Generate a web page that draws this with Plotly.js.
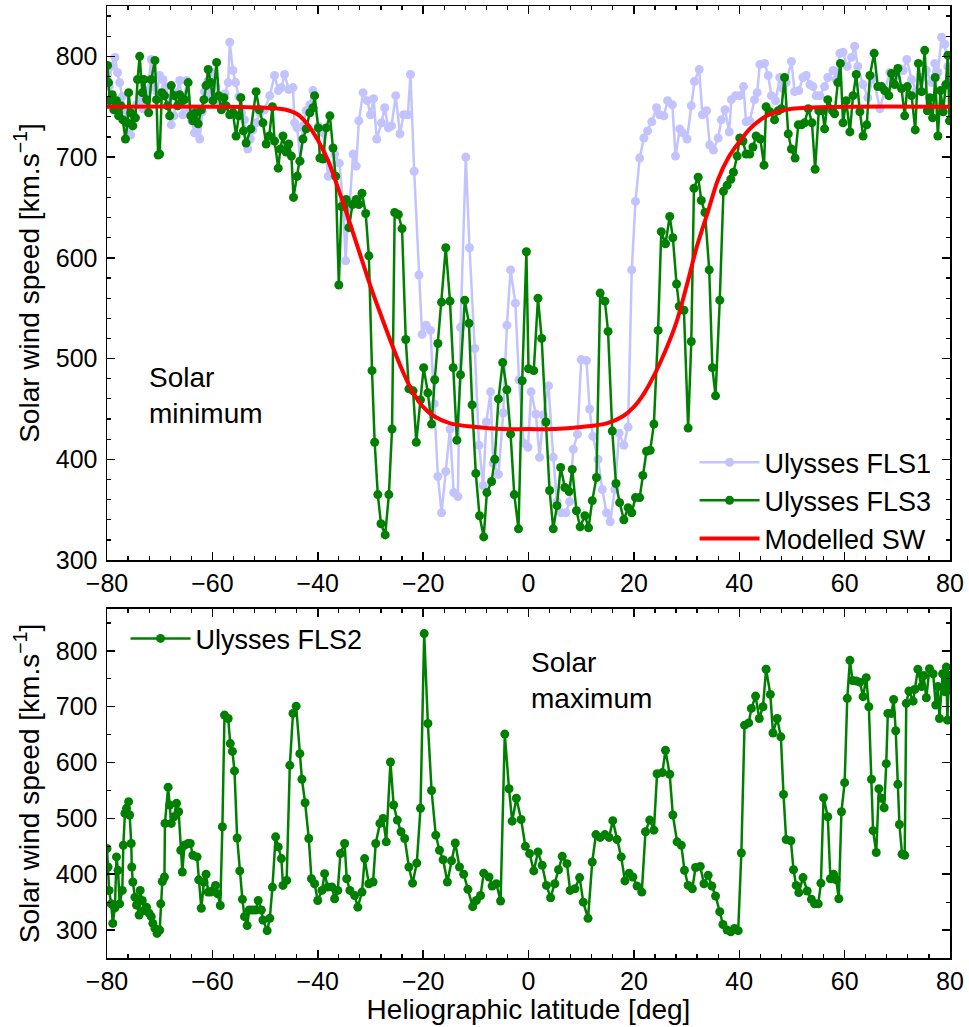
<!DOCTYPE html>
<html>
<head>
<meta charset="utf-8">
<script src="https://cdn.plot.ly/plotly-3.0.1.min.js"></script>
<style>html,body{margin:0;padding:0;background:#fff;}#chart{width:969px;height:1027px;}</style>
</head>
<body>
<div id="chart"></div>
<script>
// ---------- DATA ----------
const fls1Lat = [-80.0,-79.6,-79.2,-78.5,-78.0,-77.6,-77.1,-76.6,-76.0,-75.5,-75.0,-74.4,-73.8,-73.2,-72.8,-72.3,-71.6,-71.1,-70.5,-70.0,-69.4,-68.9,-68.3,-67.8,-67.3,-66.8,-66.2,-65.6,-64.9,-64.4,-63.9,-63.4,-62.9,-62.4,-61.9,-61.5,-60.9,-60.4,-59.8,-59.3,-58.7,-58.1,-57.6,-57.0,-56.7,-56.1,-55.6,-55.0,-54.5,-53.9,-53.3,-52.8,-52.3,-51.7,-51.0,-50.1,-49.1,-48.2,-47.5,-46.9,-46.3,-45.5,-44.7,-44.4,-43.9,-43.3,-42.8,-42.2,-41.5,-40.9,-39.9,-39.0,-38.0,-37.4,-36.8,-35.9,-35.2,-34.7,-34.3,-33.9,-33.3,-32.7,-32.2,-31.4,-30.6,-30.0,-29.4,-28.8,-27.9,-27.3,-26.6,-26.0,-25.2,-24.4,-23.7,-22.9,-22.4,-21.7,-20.8,-20.2,-19.4,-18.6,-17.9,-17.2,-16.5,-15.7,-14.9,-14.2,-13.4,-12.9,-11.9,-11.2,-10.2,-9.4,-8.6,-8.0,-7.2,-6.7,-5.7,-4.8,-4.1,-3.4,-2.5,-1.8,-0.9,-0.1,0.5,1.4,2.1,2.8,3.8,4.7,5.4,6.2,7.1,7.8,8.5,9.3,10.0,11.0,11.6,12.2,13.2,14.0,14.8,15.5,16.4,17.2,18.1,18.9,19.6,20.3,21.1,21.9,22.6,23.4,24.3,24.9,25.7,26.4,27.3,27.9,28.7,29.3,30.1,30.9,31.5,32.4,33.0,33.8,34.4,35.1,36.0,36.6,37.3,38.1,38.5,39.3,40.1,40.8,41.3,42.0,42.9,43.4,43.9,44.8,45.5,46.1,46.9,47.7,48.3,48.9,49.9,50.5,51.3,52.1,52.7,53.4,54.0,54.6,55.3,56.2,56.8,57.8,58.4,59.1,59.7,60.5,61.3,61.9,62.5,63.5,64.4,65.4,66.7,67.6,68.6,69.5,70.4,71.1,71.8,72.7,73.6,74.6,75.5,76.5,77.1,77.7,78.4,79.0,79.6,80.0];
const fls1Speed = [781,770,790,799,784,774,760,747,728,722,740,752,760,748,751,766,797,770,765,781,777,770,758,732,741,764,776,742,776,748,736,724,737,718,745,765,775,760,784,770,752,748,763,774,814,786,774,760,744,737,708,718,727,734,744,747,761,781,766,769,782,767,769,734,729,696,731,746,752,766,731,724,681,688,703,694,655,597,641,655,703,691,736,764,756,742,758,718,734,749,729,731,761,723,742,742,782,686,583,524,533,528,455,383,347,388,430,367,363,531,700,610,510,414,374,437,467,396,385,446,533,588,555,479,416,412,467,445,402,444,473,402,358,347,347,358,410,425,499,498,450,423,400,370,347,338,370,426,414,432,588,656,699,719,726,735,749,742,741,756,752,701,728,724,718,751,775,787,742,746,712,707,719,737,747,725,757,761,761,770,735,736,757,764,792,793,781,761,756,779,768,774,795,765,766,779,781,772,770,761,761,770,779,786,777,803,804,790,799,810,790,772,759,779,748,766,784,779,788,786,797,777,766,779,786,774,793,784,819,812,790,770];

const fls3Lat = [-79.9,-79.7,-79.5,-79.0,-78.7,-78.2,-77.8,-77.4,-77.0,-76.5,-76.1,-75.9,-75.5,-75.1,-74.6,-74.2,-73.8,-73.3,-73.0,-72.5,-72.1,-71.6,-70.9,-70.6,-70.3,-70.0,-69.6,-69.1,-68.5,-68.1,-67.8,-67.2,-66.6,-66.2,-65.7,-65.3,-64.6,-64.1,-63.7,-63.2,-62.7,-62.1,-61.6,-61.2,-60.8,-60.3,-59.9,-59.2,-58.8,-58.3,-57.8,-57.4,-56.7,-56.1,-55.5,-55.0,-54.6,-54.1,-53.6,-52.7,-51.7,-51.1,-50.4,-49.8,-49.2,-48.6,-48.2,-47.5,-47.1,-46.6,-46.0,-45.5,-45.0,-44.6,-43.9,-43.4,-42.8,-42.2,-41.5,-40.9,-40.6,-39.9,-39.6,-39.0,-38.4,-37.7,-37.1,-36.6,-36.0,-35.5,-34.6,-34.1,-33.4,-32.7,-32.2,-31.6,-30.9,-30.3,-29.7,-29.2,-28.6,-28.0,-27.2,-26.5,-25.9,-25.4,-24.7,-24.0,-23.3,-22.7,-21.9,-21.3,-20.5,-19.9,-19.1,-18.4,-17.8,-17.2,-16.5,-15.7,-14.9,-14.3,-13.6,-12.9,-12.1,-11.3,-10.7,-10.0,-9.3,-8.5,-7.9,-7.0,-6.4,-5.7,-4.9,-4.1,-3.4,-2.7,-1.9,-1.2,-0.4,0.0,1.0,1.8,2.5,3.3,4.0,4.7,5.4,6.1,6.9,7.7,8.3,9.1,9.8,10.7,11.4,12.1,12.9,13.6,14.5,15.1,15.9,16.6,17.3,18.1,18.9,19.6,20.3,21.1,21.7,22.4,23.1,23.8,24.6,25.2,26.0,26.8,27.4,28.1,28.6,29.5,30.3,30.9,31.4,32.2,32.8,33.5,34.3,34.9,35.5,36.3,37.0,37.7,38.4,38.9,39.6,40.1,40.7,41.3,42.0,42.6,43.2,44.0,44.7,45.1,45.8,46.7,47.4,48.0,48.6,49.3,49.9,50.6,51.2,51.8,52.4,53.1,53.8,54.4,55.1,55.8,56.2,56.8,57.7,58.1,58.7,59.2,59.7,60.3,61.0,61.6,62.2,62.9,63.5,64.2,64.8,65.6,66.3,67.0,67.6,68.4,68.9,69.5,70.1,70.8,71.4,71.9,72.7,73.4,74.0,74.6,75.2,75.7,76.2,76.7,77.2,77.7,78.2,78.7,79.2,79.6,79.9];
const fls3Speed = [791,774,756,762,747,756,741,751,737,718,734,764,744,731,739,777,800,764,777,757,744,777,796,757,702,703,764,761,751,741,771,761,751,762,756,757,774,741,736,744,733,747,757,771,787,774,756,794,761,747,759,751,742,744,721,741,759,726,714,728,765,747,734,713,721,750,716,689,708,721,705,713,701,660,681,696,718,728,744,749,761,729,699,698,729,741,709,681,573,651,658,630,653,658,653,664,644,602,488,417,365,336,325,365,430,645,643,629,519,470,468,417,459,491,466,435,479,515,556,610,557,491,419,484,558,535,454,386,344,323,367,378,400,460,496,469,425,365,331,478,606,490,488,560,520,437,369,331,354,392,372,368,390,349,333,344,332,359,382,565,557,527,428,376,357,340,352,347,362,362,384,408,409,435,528,626,614,641,620,574,552,548,431,517,669,680,657,645,588,491,463,558,666,672,678,685,701,719,716,703,703,710,721,718,692,750,745,737,746,748,779,723,708,699,732,732,734,748,734,688,746,746,728,757,746,743,774,793,734,756,725,761,782,745,721,732,781,803,770,770,766,761,783,772,788,768,741,770,761,727,793,765,806,746,759,739,779,721,766,745,772,801,736];

const modelLat = [-80,-60,-50,-46,-44,-42,-40,-38,-36,-34,-32,-30,-28,-26,-24,-22,-20,-18,-15,-10,-5,0,5,10,15,18,20,22,24,26,28,30,32,34,36,38,40,42,44,46,50,60,80];
const modelSpeed = [750,750,749,747,743,733,717,696,667,636,604,572,543,515,489,467,452,443,436,432,430,430,430,432,436,443,452,466,485,508,535,572,612,645,678,700,715,728,737,743,748,750,750];

const fls2Lat = [-80.0,-79.8,-79.6,-79.2,-78.9,-78.5,-78.2,-77.9,-77.6,-77.1,-76.9,-76.6,-76.3,-75.9,-75.7,-75.4,-75.3,-75.1,-74.7,-74.4,-73.9,-73.7,-73.3,-73.0,-72.5,-72.0,-71.6,-71.3,-70.9,-70.5,-70.0,-69.8,-69.5,-69.1,-69.0,-68.4,-68.1,-67.8,-67.3,-66.8,-66.4,-66.0,-65.7,-65.3,-64.6,-64.2,-63.7,-62.9,-62.6,-62.1,-61.6,-61.2,-60.8,-60.3,-59.9,-59.4,-59.0,-58.5,-58.1,-57.7,-57.0,-56.6,-56.2,-55.8,-55.3,-54.8,-54.3,-53.9,-53.4,-53.0,-52.4,-51.8,-51.3,-50.7,-50.4,-49.6,-49.1,-48.6,-48.0,-47.5,-46.9,-46.6,-45.9,-45.3,-44.7,-44.1,-43.4,-43.0,-42.4,-41.7,-41.2,-40.6,-40.0,-39.2,-38.7,-38.1,-37.3,-36.8,-36.2,-35.7,-34.9,-34.5,-33.9,-33.0,-32.4,-31.6,-31.1,-30.3,-29.5,-29.0,-28.2,-27.6,-27.0,-26.2,-25.6,-24.9,-24.2,-23.5,-22.7,-22.0,-21.2,-20.5,-19.8,-19.1,-18.4,-17.6,-16.9,-16.2,-15.4,-14.6,-13.9,-13.1,-12.3,-11.5,-10.6,-9.9,-9.1,-8.5,-7.5,-6.9,-6.1,-5.3,-4.5,-3.7,-3.1,-2.3,-1.4,-0.6,0.2,1.0,1.8,2.6,3.4,4.2,5.0,5.7,6.4,7.3,7.9,8.8,9.7,10.4,11.3,12.1,12.8,13.6,14.5,15.3,16.0,16.8,17.6,18.3,19.1,19.8,20.6,21.5,22.2,23.0,23.8,24.4,25.4,26.0,26.8,27.4,28.2,29.0,29.6,30.3,31.1,31.7,32.6,33.3,34.1,34.8,35.5,36.3,36.9,37.7,38.4,39.1,39.8,40.4,41.0,41.8,42.3,43.1,43.8,44.5,45.1,45.9,46.4,47.2,47.9,48.4,48.9,49.8,50.3,50.8,51.3,52.1,52.9,53.7,54.3,55.0,55.5,56.0,56.8,57.3,57.9,58.4,58.9,59.4,60.0,60.5,61.0,61.5,62.2,62.9,63.5,64.1,64.6,65.1,65.4,66.0,66.5,67.0,67.5,67.9,68.2,68.9,69.3,69.7,70.1,70.4,70.9,71.4,71.7,72.2,73.0,73.3,73.9,74.6,75.0,75.5,76.1,76.8,77.3,77.7,78.0,78.6,79.0,79.3,79.5,79.8,80.0];
const fls2Speed = [446,413,371,347,312,340,431,407,347,371,452,509,518,530,506,455,413,386,359,345,327,371,353,335,341,330,324,312,303,294,300,347,387,395,491,556,524,491,503,527,512,443,404,452,455,455,434,431,390,339,386,400,368,368,371,380,365,344,485,685,679,634,620,585,465,406,355,324,308,336,336,336,353,336,318,299,321,377,467,449,428,380,389,595,688,701,616,570,528,464,392,383,353,371,401,377,377,356,371,437,455,392,371,362,341,368,428,383,386,455,491,500,458,601,524,497,476,464,413,384,420,518,831,670,550,470,443,426,386,424,456,413,400,373,342,353,362,402,395,379,383,352,651,553,495,536,498,450,437,406,440,416,380,358,383,408,432,419,371,374,394,350,321,422,471,466,471,466,496,462,431,388,402,395,379,368,476,497,479,580,582,622,579,506,458,452,407,380,374,412,414,383,398,379,361,333,310,300,297,303,299,438,667,671,697,719,679,700,767,722,653,679,646,543,462,460,408,380,367,394,370,355,347,347,384,537,503,392,400,390,356,512,564,715,783,747,746,744,718,752,700,570,478,439,553,536,519,598,688,688,713,657,561,489,436,434,706,728,710,731,767,736,756,716,768,759,703,736,679,759,727,771,676,756,730];

// ---------- CHART ----------
const FONT = 'Liberation Sans, Arial, Helvetica, sans-serif';
const blue = '#c3c3ff';
const green = '#008000';

const traces = [
  {x: fls1Lat, y: fls1Speed, type: 'scatter', mode: 'lines+markers', name: 'Ulysses FLS1',
   line: {color: blue, width: 2.5}, marker: {color: blue, size: 9}, xaxis: 'x', yaxis: 'y', legend: 'legend'},
  {x: fls3Lat, y: fls3Speed, type: 'scatter', mode: 'lines+markers', name: 'Ulysses FLS3',
   line: {color: green, width: 2.5}, marker: {color: green, size: 9}, xaxis: 'x', yaxis: 'y', legend: 'legend'},
  {x: modelLat, y: modelSpeed, type: 'scatter', mode: 'lines', name: 'Modelled SW',
   line: {color: '#ff0000', width: 4, shape: 'spline', smoothing: 1}, xaxis: 'x', yaxis: 'y', legend: 'legend'},
  {x: fls2Lat, y: fls2Speed, type: 'scatter', mode: 'lines+markers', name: 'Ulysses FLS2',
   line: {color: green, width: 2.5}, marker: {color: green, size: 9}, xaxis: 'x2', yaxis: 'y2', legend: 'legend2'}
];

function xax(extra) {
  return Object.assign({
    range: [-80, 80], dtick: 20, tick0: 0, ticks: 'inside', ticklen: 8, tickwidth: 1.5, tickcolor: '#000',
    showline: true, linecolor: '#000', linewidth: 1.5, mirror: 'allticks', showgrid: false, zeroline: false,
    minor: {dtick: 4, ticks: 'inside', ticklen: 4, tickwidth: 1.2, tickcolor: '#000', showgrid: false},
    tickfont: {family: FONT, size: 25, color: '#000'}, fixedrange: true
  }, extra);
}
function yax(extra) {
  return Object.assign({
    ticks: 'inside', ticklen: 8, tickwidth: 1.5, tickcolor: '#000', dtick: 100, tick0: 0,
    showline: true, linecolor: '#000', linewidth: 1.5, mirror: 'allticks', showgrid: false, zeroline: false,
    tickfont: {family: FONT, size: 25, color: '#000'}, fixedrange: true, ticklabelstandoff: 3,
    title: {text: 'Solar wind speed [km.s<sup>\u22121</sup>]', font: {family: FONT, size: 28, color: '#000'}, standoff: 8}
  }, extra);
}

const layout = {
  width: 969, height: 1027,
  margin: {l: 107, r: 19, t: 6, b: 69},
  paper_bgcolor: '#fff', plot_bgcolor: '#fff',
  font: {family: FONT, size: 25, color: '#000'},
  showlegend: true,
  xaxis: xax({domain: [0, 1], anchor: 'y'}),
  yaxis: yax({domain: [0.418, 1], anchor: 'x', range: [300, 850],
              minor: {dtick: 20, ticks: 'inside', ticklen: 4, tickwidth: 1.2, tickcolor: '#000', showgrid: false}}),
  xaxis2: xax({domain: [0, 1], anchor: 'y2',
               title: {text: 'Heliographic latitude [deg]', font: {family: FONT, size: 28, color: '#000'}, standoff: 4}}),
  yaxis2: yax({domain: [0, 0.3666], anchor: 'x2', range: [250, 875],
               minor: {dtick: 50, ticks: 'inside', ticklen: 4, tickwidth: 1.2, tickcolor: '#000', showgrid: false}}),
  legend: {x: 0.697, y: 0.546, xanchor: 'left', yanchor: 'top', bgcolor: 'rgba(0,0,0,0)', borderwidth: 0,
           font: {family: FONT, size: 27, color: '#000'}, itemwidth: 60, tracegroupgap: 0},
  legend2: {x: 0.022, y: 0.361, xanchor: 'left', yanchor: 'top', bgcolor: 'rgba(0,0,0,0)', borderwidth: 0,
            font: {family: FONT, size: 27, color: '#000'}, itemwidth: 60},
  annotations: [
    {text: 'Solar<br>minimum', xref: 'paper', yref: 'paper', x: 0.048, y: 0.591, xanchor: 'left', yanchor: 'middle',
     align: 'left', showarrow: false, font: {family: FONT, size: 28, color: '#000'}},
    {text: 'Solar<br>maximum', xref: 'paper', yref: 'paper', x: 0.5, y: 0.292, xanchor: 'left', yanchor: 'middle',
     align: 'left', showarrow: false, font: {family: FONT, size: 28, color: '#000'}}
  ]
};

Plotly.newPlot('chart', traces, layout, {displayModeBar: false, staticPlot: true});
</script>
</body>
</html>
